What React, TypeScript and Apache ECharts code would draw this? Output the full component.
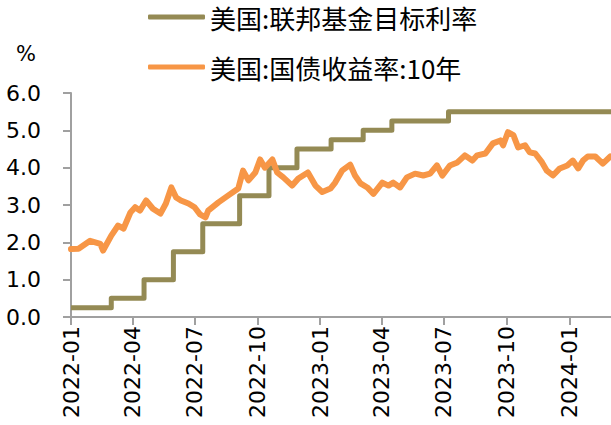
import React, { useEffect, useRef } from "react";
import * as echarts from "echarts";

// Axis range (data window) and quarterly tick positions
const axisStart = "2022-01-17";
const axisEnd = "2024-03-18";
const tickDates = [
  "2022-01-17", "2022-04-17", "2022-07-17", "2022-10-17",
  "2023-01-17", "2023-04-17", "2023-07-17", "2023-10-17", "2024-01-17",
];
const tickLabels = [
  "2022-01", "2022-04", "2022-07", "2022-10",
  "2023-01", "2023-04", "2023-07", "2023-10", "2024-01",
];
const yTicks = [0, 1, 2, 3, 4, 5, 6];

// 美国:联邦基金目标利率 (step changes)
const fedDates = [
  "2022-01-17", "2022-03-17", "2022-05-04", "2022-06-16", "2022-07-29",
  "2022-09-21", "2022-11-03", "2022-12-14", "2023-02-02", "2023-03-21",
  "2023-05-02", "2023-07-24", "2024-03-18",
];
const fedValues = [0.25, 0.5, 1.0, 1.75, 2.5, 3.25, 4.0, 4.5, 4.75, 5.0, 5.25, 5.5, 5.5];

// 美国:国债收益率:10年
const ustDates = [
  "2022-01-17", "2022-01-28", "2022-02-14", "2022-03-01", "2022-03-05",
  "2022-03-17", "2022-03-27", "2022-04-04", "2022-04-14", "2022-04-21",
  "2022-04-28", "2022-05-07", "2022-05-17", "2022-05-28", "2022-06-05",
  "2022-06-13", "2022-06-20", "2022-06-27", "2022-07-08", "2022-07-17",
  "2022-07-25", "2022-08-02", "2022-08-06", "2022-08-21", "2022-09-04",
  "2022-09-19", "2022-09-26", "2022-10-04", "2022-10-14", "2022-10-21",
  "2022-10-28", "2022-11-08", "2022-11-15", "2022-11-24", "2022-12-07",
  "2022-12-16", "2022-12-30", "2023-01-10", "2023-01-20", "2023-02-01",
  "2023-02-08", "2023-02-18", "2023-03-02", "2023-03-09", "2023-03-17",
  "2023-03-27", "2023-04-05", "2023-04-18", "2023-04-27", "2023-05-04",
  "2023-05-14", "2023-05-24", "2023-06-05", "2023-06-17", "2023-06-27",
  "2023-07-07", "2023-07-15", "2023-07-26", "2023-08-06", "2023-08-17",
  "2023-08-28", "2023-09-04", "2023-09-16", "2023-09-27", "2023-10-08",
  "2023-10-12", "2023-10-19", "2023-10-27", "2023-11-03", "2023-11-13",
  "2023-11-20", "2023-11-28", "2023-12-08", "2023-12-15", "2023-12-24",
  "2024-01-03", "2024-01-14", "2024-01-22", "2024-01-30", "2024-02-06",
  "2024-02-13", "2024-02-24", "2024-03-06", "2024-03-17",
];
const ustValues = [
  1.82, 1.83, 2.04, 1.96, 1.78,
  2.18, 2.45, 2.37, 2.8, 2.94,
  2.85, 3.12, 2.9, 2.77, 3.04,
  3.47, 3.2, 3.12, 3.04, 2.94,
  2.75, 2.67, 2.85, 3.07, 3.25,
  3.44, 3.92, 3.66, 3.87, 4.22,
  4.0, 4.22, 3.87, 3.74, 3.52,
  3.71, 3.87, 3.52, 3.35, 3.44,
  3.6, 3.92, 4.08, 3.79, 3.58,
  3.47, 3.3, 3.6, 3.52, 3.6,
  3.47, 3.74, 3.84, 3.79, 3.84,
  4.06, 3.79, 4.06, 4.14, 4.33,
  4.19, 4.33, 4.38, 4.65, 4.73,
  4.6, 4.95, 4.87, 4.54, 4.6,
  4.41, 4.38, 4.14, 3.92, 3.79,
  3.98, 4.06, 4.19, 3.98, 4.19,
  4.3, 4.3, 4.11, 4.3,
];

const seriesNames = ["美国:联邦基金目标利率", "美国:国债收益率:10年"];
const unitLabel = "%";

function toTime(s: string): number {
  const [y, m, d] = s.split("-").map(Number);
  return Date.UTC(y, m - 1, d);
}

export default function App() {
  const ref = useRef<HTMLDivElement>(null);
  useEffect(() => {
    if (!ref.current) return;
    const chart = echarts.init(ref.current, null, { renderer: "svg" });
    const tickTimes = tickDates.map(toTime);
    const axisColor = "#A0A0A0";
    const labelFont = "DejaVu Sans";
    chart.setOption({
      animation: false,
      backgroundColor: "#ffffff",
      grid: { left: 71, right: 0, top: 93, bottom: 108, containLabel: false },
      legend: {
        orient: "vertical",
        left: 148,
        top: 3,
        padding: 0,
        itemWidth: 57,
        itemHeight: 5,
        itemGap: 22,
        icon: "roundRect",
        textStyle: {
          fontSize: 26,
          lineHeight: 28,
          fontFamily: "Noto Sans CJK SC",
          color: "#000000",
        },
        data: seriesNames,
      },
      graphic: [
        {
          type: "text",
          left: 16,
          top: 43,
          style: {
            text: unitLabel,
            fontSize: 21,
            fontFamily: labelFont,
            fill: "#000000",
          },
        },
      ],
      xAxis: {
        type: "value",
        min: toTime(axisStart),
        max: toTime(axisEnd),
        splitLine: { show: false },
        axisLine: { show: true, lineStyle: { color: axisColor, width: 2 } },
        axisTick: {
          show: true,
          length: 8,
          inside: false,
          customValues: tickTimes,
          lineStyle: { color: axisColor, width: 2 },
        },
        axisLabel: {
          customValues: tickTimes,
          rotate: 90,
          margin: 9,
          fontSize: 22,
          fontFamily: labelFont,
          color: "#000000",
          formatter: (v: number) => {
            let best = 0;
            let bd = Infinity;
            tickTimes.forEach((t, i) => {
              const d = Math.abs(t - v);
              if (d < bd) { bd = d; best = i; }
            });
            return tickLabels[best];
          },
        },
      },
      yAxis: {
        type: "value",
        min: yTicks[0],
        max: yTicks[yTicks.length - 1],
        interval: 1,
        splitLine: { show: false },
        axisLine: { show: true, lineStyle: { color: axisColor, width: 2 } },
        axisTick: { show: true, length: 8, lineStyle: { color: axisColor, width: 2 } },
        axisLabel: {
          margin: 30,
          fontSize: 22,
          fontFamily: labelFont,
          color: "#000000",
          formatter: (v: number) => v.toFixed(1),
        },
      },
      series: [
        {
          name: seriesNames[0],
          type: "line",
          step: "end",
          symbol: "none",
          data: fedDates.map((d, i) => [toTime(d), fedValues[i]]),
          itemStyle: { color: "#948A54" },
          lineStyle: { color: "#948A54", width: 5, join: "round" },
        },
        {
          name: seriesNames[1],
          type: "line",
          symbol: "none",
          data: ustDates.map((d, i) => [toTime(d), ustValues[i]]),
          itemStyle: { color: "#F79646" },
          lineStyle: { color: "#F79646", width: 6, cap: "round", join: "round" },
        },
      ],
    });
    return () => chart.dispose();
  }, []);
  return (
    <div
      ref={ref}
      style={{ position: "absolute", left: 0, top: 0, width: 611, height: 425 }}
    />
  );
}
